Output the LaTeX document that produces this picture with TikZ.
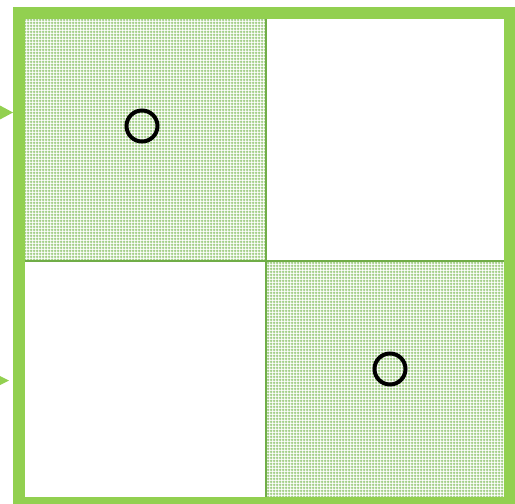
\documentclass[tikz,border=0pt]{standalone}
\usetikzlibrary{patterns.meta}
\definecolor{frameg}{HTML}{92D050}
\definecolor{lineg}{HTML}{70AD47}
\definecolor{patg}{HTML}{9CCB7E}
\pgfdeclarepattern{
  name=cellgrid,
  type=uncolored,
  bottom left={\pgfpoint{0pt}{0pt}},
  top right={\pgfpoint{3pt}{3pt}},
  tile size={\pgfpoint{3pt}{3pt}},
  code={
    \pgfsetlinewidth{1.1pt}
    \pgfpathmoveto{\pgfpoint{1.5pt}{0pt}}\pgfpathlineto{\pgfpoint{1.5pt}{3pt}}
    \pgfpathmoveto{\pgfpoint{0pt}{1.5pt}}\pgfpathlineto{\pgfpoint{3pt}{1.5pt}}
    \pgfusepath{stroke}
  }
}
\tikzset{
  frame/.style={draw=frameg, line width=12pt},
  divider/.style={draw=lineg, line width=2.5pt},
  hatched/.style={fill=white, postaction={pattern=cellgrid, pattern color=patg}},
  marker/.style={draw=black, line width=4pt, fill=none},
  pointer/.style={fill=frameg, draw=none}
}
\begin{document}
\begin{tikzpicture}[x=1pt,y=-1pt]
\useasboundingbox (0,0) rectangle (515,504);
\clip (0,0) rectangle (515,504);
% shaded cells
\path[hatched] (25,19) rectangle (266,261);
\path[hatched] (266,261) rectangle (503.5,496.7);
% dividers
\coordinate (dtop) at (266,19);
\coordinate (dbot) at (266,496.7);
\coordinate (dleft) at (25,261);
\coordinate (dright) at (503.5,261);
\draw[divider] (dtop) -- (dbot);
\draw[divider] (dleft) -- (dright);
% frame
\draw[frame] (19,13) rectangle (509.5,502.7);
% markers
\draw[marker] (142,126) circle (15.5);
\draw[marker] (390,369) circle (15.5);
% pointers
\fill[pointer] (-1,105) -- (13,112.5) -- (-1,120) -- cycle;
\fill[pointer] (-1,375.5) -- (9,380.5) -- (-1,385.5) -- cycle;
\end{tikzpicture}
\end{document}
